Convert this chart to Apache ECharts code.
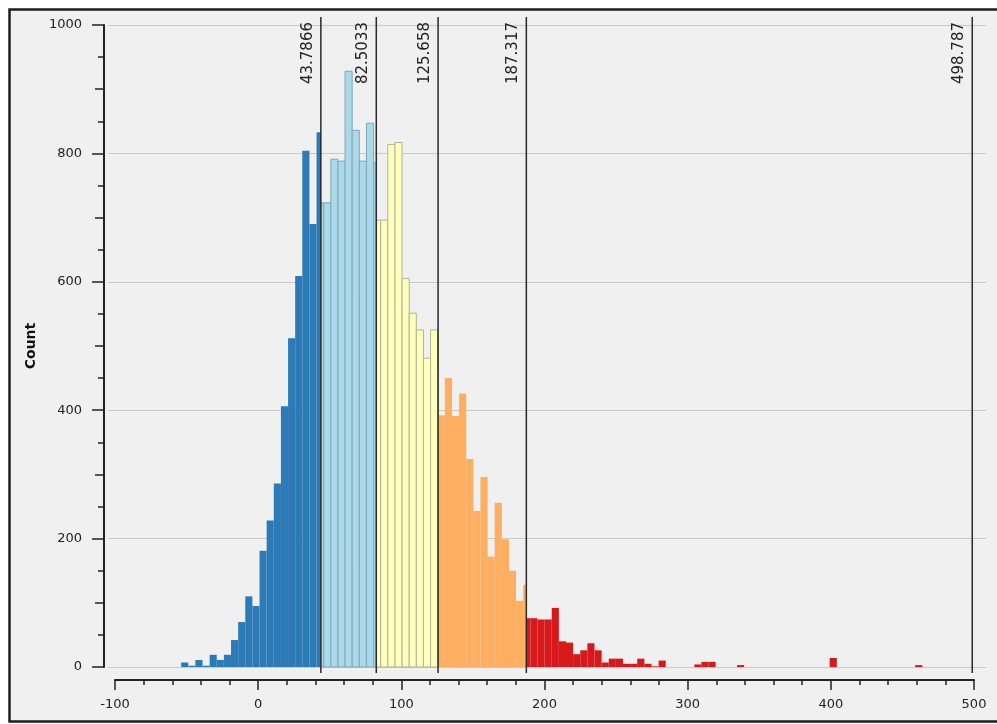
<!DOCTYPE html>
<html>
<head>
<meta charset="utf-8">
<style>
  html, body { margin: 0; padding: 0; background: #ffffff; }
  #chart { width: 997px; height: 724px; }
</style>
<script src="https://cdn.jsdelivr.net/npm/echarts@6/dist/echarts.min.js"></script>
</head>
<body>
<div id="chart"></div>
<script>
// ---- data ----
const binMin = -53.8;      // left edge of first histogram bin
const binWidth = 4.978;    // width of each bin
const counts = [
  7, 2, 11, 2, 19, 11, 19, 42, 70, 110,
  95, 181, 228, 286, 406, 512, 609, 804, 690, 723,
  723, 791, 788, 928, 836, 788, 847, 696, 696, 814,
  817, 605, 551, 525, 481, 525, 392, 450, 391, 426,
  324, 243, 296, 172, 256, 199, 150, 103, 76, 76,
  74, 74, 92, 40, 38, 20, 26, 37, 26, 7,
  13, 13, 5, 5, 13, 5, 1, 10, 0, 0,
  0, 0, 4, 8, 8, 0, 0, 0, 3, 0,
  0, 0, 0, 0, 0, 0, 0, 0, 0, 0,
  0, 14, 0, 0, 0, 0, 0, 0, 0, 0,
  0, 0, 0, 3
];
// bins cut by a class break: height of the part left of the break
const splitBins = [19, 27, 36, 48];
const splitLeftCounts = [833, 785, 525, 128];
// class breaks (vertical marker lines)
const breaks = [43.7866, 82.5033, 125.658, 187.317, 498.787];
const breakLabels = ['43.7866', '82.5033', '125.658', '187.317', '498.787'];
const classColors = ['#2c7bb6', '#abd9e9', '#ffffbf', '#fdae61', '#d7191c'];
const classStrokes = [null, '#7fa8b8', '#b4b48a', null, null];
const xTicks = { min: -100, max: 500, interval: 100 };
const yTicks = { min: 0, max: 1000, interval: 200 };

function classOf(v) {
  for (let i = 0; i < breaks.length - 1; i++) if (v < breaks[i]) return i;
  return breaks.length - 1;
}

// build segments [start, end, count, class]
const segments = [];
counts.forEach((c, k) => {
  const s = binMin + k * binWidth, e = s + binWidth;
  const si = splitBins.indexOf(k);
  if (si >= 0) {
    const b = breaks.find(v => v > s && v < e);
    segments.push([s, b, splitLeftCounts[si], classOf((s + b) / 2)]);
    segments.push([b, e, c, classOf((b + e) / 2)]);
  } else if (c > 0) {
    segments.push([s, e, c, classOf((s + e) / 2)]);
  }
});

const chart = echarts.init(document.getElementById('chart'), null, { renderer: 'canvas' });
const font = 'DejaVu Sans';
const axisColor = '#222222';
const plain = v => String(v);

chart.setOption({
  backgroundColor: '#ffffff',
  animation: false,
  graphic: [
    { type: 'rect', z: -10, silent: true,
      shape: { x: 9.5, y: 9.5, width: 1000, height: 712 },
      style: { fill: '#f0f0f0', stroke: null } },
    { type: 'rect', z: 100, silent: true,
      shape: { x: 9.5, y: 9.5, width: 1000, height: 712 },
      style: { fill: 'none', stroke: '#1e1e1e', lineWidth: 2.5 } }
  ],
  grid: [
    { left: 115, right: 23, top: 25, bottom: 57 },
    { left: 108, right: 11, top: 25, bottom: 57 }
  ],
  xAxis: [
    { type: 'value', gridIndex: 0, min: xTicks.min, max: xTicks.max, interval: xTicks.interval,
      position: 'bottom', offset: 13,
      axisLine: { show: true, onZero: false, lineStyle: { color: axisColor, width: 2 } },
      axisTick: { show: true, length: 10, lineStyle: { color: axisColor, width: 1.5 } },
      minorTick: { show: true, splitNumber: 5, length: 5, lineStyle: { color: axisColor, width: 1.5 } },
      axisLabel: { margin: 18, fontSize: 13, fontFamily: font, color: axisColor, formatter: plain },
      splitLine: { show: false } },
    { type: 'value', gridIndex: 1, min: 0, max: 1, show: false }
  ],
  yAxis: [
    { type: 'value', gridIndex: 0, min: yTicks.min, max: yTicks.max, interval: yTicks.interval,
      position: 'left', offset: 11,
      name: 'Count', nameLocation: 'middle', nameGap: 50, nameRotate: 90,
      nameTextStyle: { fontFamily: font, fontSize: 14, fontWeight: 'bold', color: '#111' },
      axisLine: { show: true, onZero: false, lineStyle: { color: axisColor, width: 2 } },
      axisTick: { show: true, length: 12, lineStyle: { color: axisColor, width: 1.5 } },
      minorTick: { show: true, splitNumber: 4, length: 6, lineStyle: { color: axisColor, width: 1.5 } },
      axisLabel: { margin: 22, fontSize: 13, fontFamily: font, color: axisColor, formatter: plain },
      splitLine: { show: false } },
    { type: 'value', gridIndex: 0, min: yTicks.min, max: yTicks.max, interval: yTicks.interval / 2,
      position: 'left', offset: 11,
      axisLine: { show: false, onZero: false },
      axisTick: { show: true, length: 9, lineStyle: { color: axisColor, width: 1.5 } },
      axisLabel: { show: false }, splitLine: { show: false } },
    { type: 'value', gridIndex: 1, min: yTicks.min, max: yTicks.max, interval: yTicks.interval,
      axisLine: { show: false, onZero: false }, axisTick: { show: false }, axisLabel: { show: false },
      splitLine: { show: true, lineStyle: { color: '#c9c9c9', width: 1 } } }
  ],
  series: [
    { type: 'custom', xAxisIndex: 0, yAxisIndex: 0, clip: false, z: 2,
      data: segments,
      encode: { x: [0, 1], y: 2 },
      renderItem: function (params, api) {
        const p0 = api.coord([api.value(0), api.value(2)]);
        const p1 = api.coord([api.value(1), 0]);
        const cls = api.value(3);
        return {
          type: 'rect',
          shape: { x: p0[0], y: p0[1], width: p1[0] - p0[0], height: p1[1] - p0[1] },
          style: { fill: classColors[cls], stroke: classStrokes[cls], lineWidth: 1 }
        };
      } },
    { type: 'custom', xAxisIndex: 0, yAxisIndex: 0, clip: false, z: 5,
      data: breaks.map((b, i) => [b, i]),
      encode: { x: 0 },
      renderItem: function (params, api) {
        const top = api.coord([api.value(0), yTicks.max]);
        const bot = api.coord([api.value(0), yTicks.min]);
        const idx = api.value(1);
        return {
          type: 'group',
          children: [
            { type: 'line',
              shape: { x1: top[0], y1: top[1] - 8, x2: bot[0], y2: bot[1] + 6 },
              style: { stroke: '#2a2a2a', lineWidth: 1.5 } },
            { type: 'text', x: top[0] - 13, y: top[1] - 3, rotation: Math.PI / 2,
              style: { text: breakLabels[idx], fontFamily: font, fontSize: 15,
                       fill: '#222', align: 'right', verticalAlign: 'middle' } }
          ]
        };
      } }
  ]
});
</script>
</body>
</html>
